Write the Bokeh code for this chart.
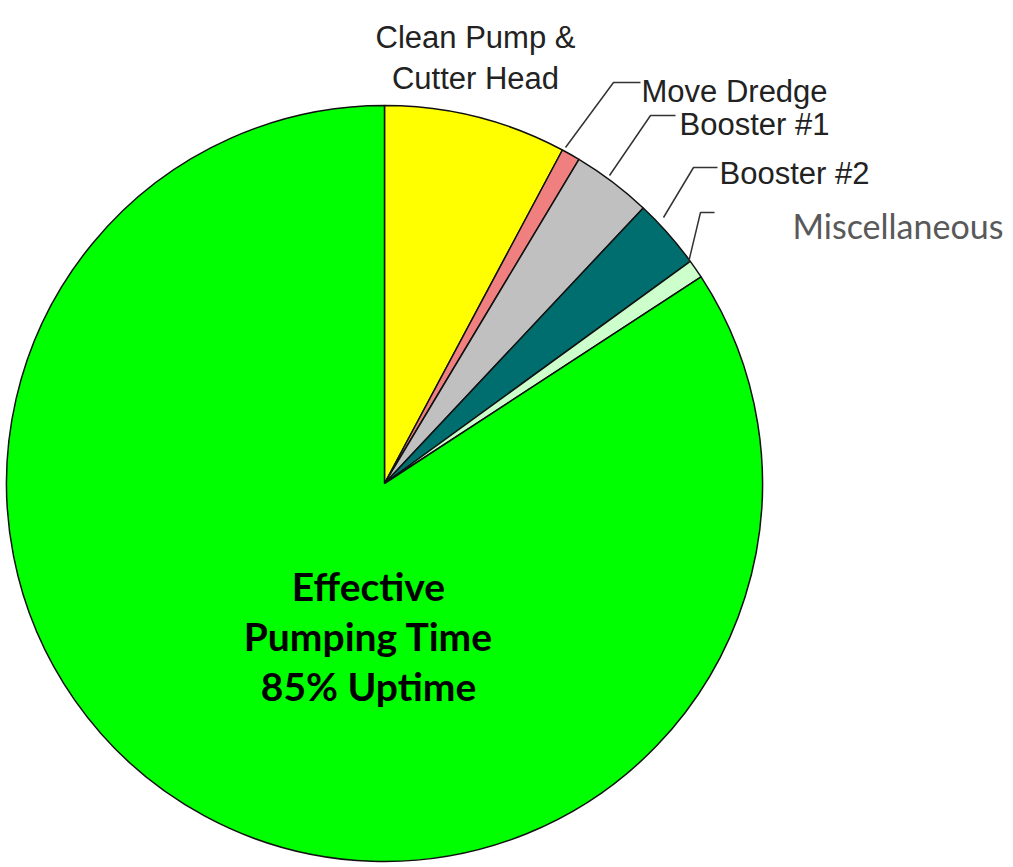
import numpy as np
from bokeh.plotting import figure
from bokeh.models import Range1d, ColumnDataSource
from bokeh.core.properties import value
from bokeh.embed import file_html
from bokeh.resources import INLINE

# ---- data ----
categories = ["Clean Pump & Cutter Head", "Move Dredge", "Booster #1", "Booster #2",
              "Miscellaneous", "Effective Pumping Time"]
shares = [7.8, 0.8, 3.4, 3.0, 0.8, 84.2]
colors = ["#FFFF00", "#F08080", "#C0C0C0", "#006E6E", "#CCFFCC", "#00FF00"]

W, H = 1013, 867
CX, CY, R = 384, 483, 378  # pie centre (pixel from top-left) and radius

def fy(y):
    return H - y

p = figure(width=W, height=H, output_backend="svg", toolbar_location=None,
           x_range=Range1d(0, W), y_range=Range1d(0, H), min_border=0,
           background_fill_color="white", border_fill_color="white")
p.axis.visible = False
p.grid.visible = False
p.outline_line_color = None

fr = np.array(shares) / sum(shares)
cum = np.concatenate([[0], np.cumsum(fr)])
start = np.pi / 2 - 2 * np.pi * cum[:-1]
end = np.pi / 2 - 2 * np.pi * cum[1:]
src = ColumnDataSource(dict(cat=categories, start=start, end=end, color=colors))
p.wedge(x=CX, y=fy(CY), radius=R, start_angle="start", end_angle="end",
        direction="clock", fill_color="color", line_color="#111111",
        line_width=1.5, source=src)

# leader lines (pixel coords from top)
leaders = [
    [(565, 147), (613, 82), (640, 82)],
    [(609, 175), (650, 115), (675, 115)],
    [(663, 217), (693, 167), (717, 167)],
    [(688, 262), (700, 212), (714, 212)],
]
p.multi_line(xs=[[a[0] for a in l] for l in leaders],
             ys=[[fy(a[1]) for a in l] for l in leaders],
             line_color="#333333", line_width=1.5)

arial = value("Arial")
p.text(x=[475, 475], y=[fy(37), fy(78)], text=["Clean Pump &", "Cutter Head"],
       text_font=arial, text_font_size="31px", text_align="center",
       text_baseline="alphabetic", text_color="#222222")
p.text(x=[641, 679, 719], y=[fy(91), fy(124), fy(173)],
       text=["Move Dredge", "Booster #1", "Booster #2"],
       text_font=arial, text_font_size="31px", text_align="left",
       text_baseline="alphabetic", text_color="#222222")
p.text(x=[792], y=[fy(225)], text=["Miscellaneous"], text_font=value("Lato"),
       text_font_size="34px", text_align="left", text_baseline="alphabetic",
       text_color="#595959")
p.text(x=[368, 368, 368], y=[fy(585), fy(635), fy(685)],
       text=["Effective", "Pumping Time", "85% Uptime"], text_font=value("Lato"),
       text_font_style="bold", text_font_size="39px", text_align="center",
       text_baseline="alphabetic", text_color="#000000")

open("out.html", "w").write(file_html(p, INLINE))
